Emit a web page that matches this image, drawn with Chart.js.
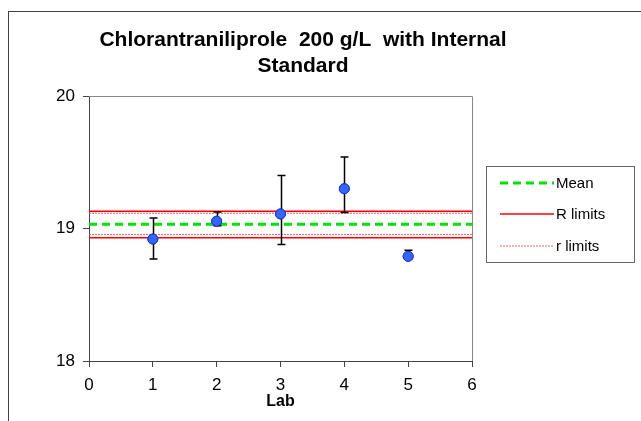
<!DOCTYPE html>
<html>
<head>
<meta charset="utf-8">
<script src="https://cdn.jsdelivr.net/npm/chart.js@4.4.1/dist/chart.umd.min.js"></script>
<style>
  html, body { margin: 0; padding: 0; background: #fff; overflow: hidden; }
  #frame { position: absolute; left: 8px; top: 11px; width: 800px; height: 600px; border: 1px solid #444; }
  #wrap { position: absolute; left: 0; top: 0; width: 641px; height: 421px; }
</style>
</head>
<body>
<div id="frame"></div>
<div id="wrap"><canvas id="chart" width="641" height="421"></canvas></div>
<script>
const titleLines = ["Chlorantraniliprole  200 g/L  with Internal", "Standard"];
const labs = [1, 2, 3, 4, 5];
const values = [18.92, 19.055, 19.11, 19.30, 18.79];
const errLow = [18.77, 19.02, 18.88, 19.12, 18.77];
const errHigh = [19.08, 19.125, 19.40, 19.54, 18.835];
const meanValue = 19.033;
const bigRLimits = [18.93, 19.13];
const smallRLimits = [18.955, 19.115];
const xRange = [0, 6];
const yRange = [18, 20];

const FONT = "'Liberation Sans', Arial, sans-serif";

function hline(y) {
  return [{ x: xRange[0], y: y }, { x: xRange[1], y: y }];
}

const errorBars = {
  id: "errorBars",
  afterDatasetsDraw(chart) {
    const ctx = chart.ctx;
    const xs = chart.scales.x, ys = chart.scales.y;
    ctx.save();
    ctx.strokeStyle = "#000";
    ctx.lineWidth = 1.5;
    labs.forEach((lab, i) => {
      const px = Math.round(xs.getPixelForValue(lab)) + 0.5;
      const top = ys.getPixelForValue(errHigh[i]);
      const bot = ys.getPixelForValue(errLow[i]);
      ctx.beginPath();
      ctx.moveTo(px, top); ctx.lineTo(px, bot);
      ctx.moveTo(px - 4, top); ctx.lineTo(px + 4, top);
      ctx.moveTo(px - 4, bot); ctx.lineTo(px + 4, bot);
      ctx.stroke();
    });
    ctx.restore();
    // redraw points over the bars
    chart.getDatasetMeta(0).controller.draw();
  }
};

const frameAndText = {
  id: "frameAndText",
  beforeDatasetsDraw(chart) {
    const a = chart.chartArea, ctx = chart.ctx;
    ctx.save();
    ctx.strokeStyle = "#888";
    ctx.lineWidth = 1;
    ctx.beginPath();
    ctx.moveTo(a.left, a.top + 0.5); ctx.lineTo(a.right + 0.5, a.top + 0.5);
    ctx.lineTo(a.right + 0.5, a.bottom);
    ctx.stroke();
    ctx.restore();
  },
  afterDraw(chart) {
    const ctx = chart.ctx;
    ctx.save();
    ctx.fillStyle = "#000";
    ctx.font = "bold 21px " + FONT;
    ctx.textAlign = "center";
    ctx.textBaseline = "middle";
    ctx.fillText(titleLines[0], 303, 40);
    ctx.fillText(titleLines[1], 303, 66);

    // legend
    ctx.strokeStyle = "#666";
    ctx.lineWidth = 1;
    ctx.strokeRect(486.5, 166.5, 148, 96);
    const items = chart.data.datasets.slice(1, 4);
    const ys = [183, 214, 246];
    ctx.font = "15px " + FONT;
    ctx.textAlign = "left";
    items.forEach((ds, i) => {
      ctx.save();
      ctx.strokeStyle = ds.borderColor;
      ctx.lineWidth = ds.borderWidth;
      ctx.setLineDash(ds.borderDash || []);
      ctx.beginPath();
      ctx.moveTo(500, ys[i]); ctx.lineTo(554, ys[i]);
      ctx.stroke();
      ctx.restore();
      ctx.fillStyle = "#000";
      ctx.fillText(ds.label, 556, ys[i] + 1);
    });
    ctx.restore();
  }
};

const ctx = document.getElementById("chart").getContext("2d");
new Chart(ctx, {
  type: "scatter",
  data: {
    datasets: [
      {
        label: "Lab",
        data: labs.map((x, i) => ({ x: x, y: values[i] })),
        backgroundColor: "#3366ff",
        borderColor: "#1a33dd",
        borderWidth: 1,
        pointRadius: 5,
        order: 0,
      },
      {
        label: "Mean",
        type: "line",
        data: hline(meanValue),
        borderColor: "#00e600",
        borderWidth: 3,
        borderDash: [8, 5],
        pointRadius: 0,
        order: 3,
      },
      {
        label: "R limits",
        type: "line",
        data: hline(bigRLimits[0]),
        borderColor: "#ff0000",
        borderWidth: 1.5,
        pointRadius: 0,
        order: 2,
      },
      {
        label: "r limits",
        type: "line",
        data: hline(smallRLimits[0]),
        borderColor: "#ff5a5a",
        borderWidth: 1,
        borderDash: [2, 1],
        pointRadius: 0,
        order: 2,
      },
      {
        label: "R limits upper",
        type: "line",
        data: hline(bigRLimits[1]),
        borderColor: "#ff0000",
        borderWidth: 1.5,
        pointRadius: 0,
        order: 2,
      },
      {
        label: "r limits upper",
        type: "line",
        data: hline(smallRLimits[1]),
        borderColor: "#ff5a5a",
        borderWidth: 1,
        borderDash: [2, 1],
        pointRadius: 0,
        order: 2,
      },
    ],
  },
  options: {
    responsive: false,
    animation: false,
    layout: { padding: { top: 96, right: 169, left: 0, bottom: 10 } },
    scales: {
      x: {
        type: "linear",
        min: xRange[0],
        max: xRange[1],
        ticks: { stepSize: 1, color: "#000", padding: 8, font: { size: 17, family: FONT } },
        grid: { drawOnChartArea: false, tickLength: 6, color: "#444" },
        border: { color: "#444", width: 1 },
        title: { display: true, text: "Lab", color: "#000", padding: 0, font: { size: 16, weight: "bold", family: FONT } },
        afterFit(scale) { scale.height = 50; },
      },
      y: {
        min: yRange[0],
        max: yRange[1],
        ticks: { stepSize: 1, color: "#000", padding: 8, font: { size: 17, family: FONT } },
        grid: { drawOnChartArea: false, tickLength: 6, color: "#444" },
        border: { color: "#444", width: 1 },
        afterFit(scale) { scale.width = 89; },
      },
    },
    plugins: {
      legend: { display: false },
      tooltip: { enabled: false },
    },
  },
  plugins: [errorBars, frameAndText],
});
</script>
</body>
</html>
